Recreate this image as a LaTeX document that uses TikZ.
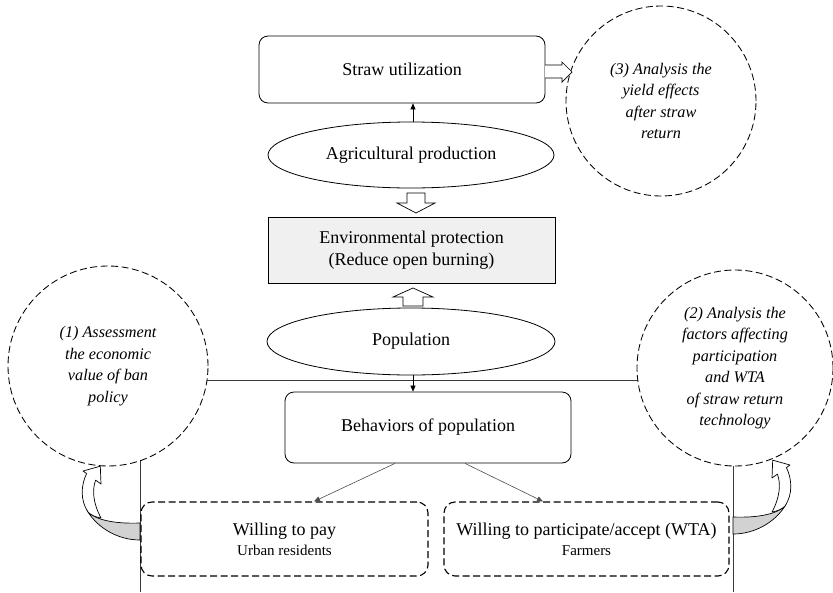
\documentclass[tikz,border=0pt]{standalone}
\usepackage{fontspec}
\setmainfont{Liberation Serif}
\usetikzlibrary{arrows.meta,shapes.geometric,calc}
\tikzset{
  rbox/.style={draw, line width=0.8pt, rounded corners=9pt, align=center, inner sep=0pt},
  dbox/.style={draw, line width=1.1pt, rounded corners=11pt, dash pattern=on 7pt off 3.5pt, align=center, inner sep=0pt},
  ell/.style={draw, ellipse, line width=0.8pt, fill=white, inner sep=0pt, align=center},
  goal/.style={draw, circle, line width=0.85pt, dash pattern=on 7pt off 3.5pt, fill=white, inner sep=0pt, align=center, font=\fontsize{16.2}{21.5}\selectfont\itshape},
  frameline/.style={draw=gray!45!black, line width=1pt},
  thinarrow/.style={line width=0.6pt, -{Triangle[length=6pt,width=5pt]}},
  blockarrow/.style={draw, fill=white, line width=0.7pt, line join=miter},
  curlarrow/.style={draw, fill=white, line width=0.7pt, line join=round},
  curlback/.style={draw, fill=gray!35, line width=0.7pt}
}
\begin{document}
\begin{tikzpicture}[x=1pt,y=-1pt, font=\fontsize{18}{22}\selectfont]
\useasboundingbox (0,0) rectangle (833,592);

% frame lines
\coordinate (hl) at (108,380);
\coordinate (hr) at (735,380);
\coordinate (vlt) at (140,380);
\coordinate (vlb) at (140,592);
\coordinate (vrt) at (733,380);
\coordinate (vrb) at (733,592);
\draw[frameline] (hl) -- (hr);
\draw[frameline] (vlt) -- (vlb);
\draw[frameline] (vrt) -- (vrb);

% goal circles
\node[goal, minimum size=200pt] (g1) at (108,366) {(1) Assessment\\the economic\\value of ban\\policy};
\node[goal, minimum size=196pt] (g2) at (735,368) {(2) Analysis the\\factors affecting\\participation\\and WTA\\of straw return\\technology};
\node[goal, minimum size=190pt] (g3) at (661,101) {(3) Analysis the\\yield effects\\after straw\\return};

% main nodes
\node[rbox, minimum width=286pt, minimum height=67pt] (straw) at (402,69.5) {Straw utilization};
\node[ell, minimum width=286pt, minimum height=66pt] (agri) at (411,155) {Agricultural production};
\node[draw, line width=0.8pt, fill=gray!12, align=center, minimum width=287pt, minimum height=66pt, inner sep=0pt] (env) at (411.5,250) {Environmental protection\\(Reduce open burning)};
\node[ell, minimum width=288pt, minimum height=67pt] (pop) at (411,341.5) {Population};
\node[rbox, minimum width=286pt, minimum height=71pt] (beh) at (428,427.5) {Behaviors of population};
\node[dbox, minimum width=287pt, minimum height=74pt] (wtp) at (284.5,539) {Willing to pay\\[-2pt]{\fontsize{15}{18}\selectfont Urban residents}};
\node[dbox, minimum width=285pt, minimum height=74pt] (wta) at (586.5,539) {Willing to participate/accept (WTA)\\[-2pt]{\fontsize{15}{18}\selectfont Farmers}};

% thin arrows
\draw[thinarrow] ($(agri.north)+(2,0)$) -- ($(agri.north |- straw.south)+(2,0)$);
\draw[thinarrow] ($(pop.south)+(2,0)$) -- ($(pop.south |- beh.north)+(2,0)$);
\draw[thinarrow, draw=gray!60!black] ($(beh.south)+(-33,0)$) -- ($(wtp.north)+(29.5,0)$);
\draw[thinarrow, draw=gray!60!black] ($(beh.south)+(37,0)$) -- ($(wta.north)+(-43.5,0)$);

% hollow block arrows
\draw[blockarrow] (407,193) -- (425,193) -- (425,203) -- (435,203) -- (416,213) -- (397,203) -- (407,203) -- cycle;
\draw[blockarrow] (403,306) -- (423,306) -- (423,297) -- (433,297) -- (413,288) -- (393,297) -- (403,297) -- cycle;
\draw[blockarrow] (545,65) -- (562,65) -- (562,62) -- (572,72) -- (562,82) -- (562,78) -- (545,78);

% curved arrows
\begin{scope}
  \draw[curlback] (140,523) .. controls (115,524) and (96,520) .. (88,512) .. controls (98,528) and (118,540) .. (140,540) -- cycle;
  \draw[curlarrow] (88,512) .. controls (80,500) and (81,485) .. (86.6,473.6) -- (83,471) -- (100.3,466.2) -- (101,484) -- (95.6,480.1) .. controls (92,490) and (93,503) .. (101,518) .. controls (95,517) and (91,515) .. (88,512) -- cycle;
\end{scope}
\begin{scope}[shift={(873,-6)}, xscale=-1]
  \draw[curlback] (140,523) .. controls (115,524) and (96,520) .. (88,512) .. controls (98,528) and (118,540) .. (140,540) -- cycle;
  \draw[curlarrow] (88,512) .. controls (80,500) and (81,485) .. (86.6,473.6) -- (83,471) -- (100.3,466.2) -- (101,484) -- (95.6,480.1) .. controls (92,490) and (93,503) .. (101,518) .. controls (95,517) and (91,515) .. (88,512) -- cycle;
\end{scope}
\end{tikzpicture}
\end{document}
